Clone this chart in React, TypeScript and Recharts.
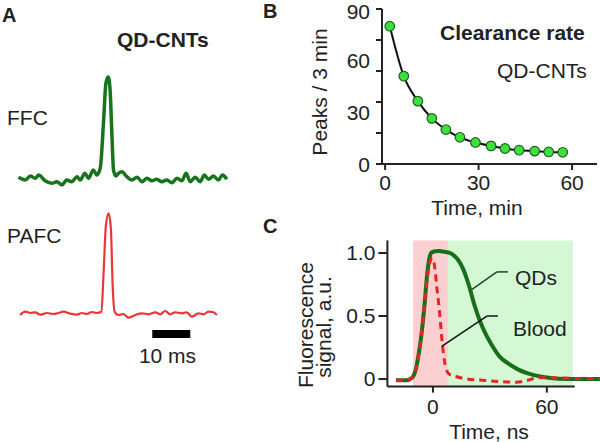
import { LineChart, Line, XAxis, YAxis, ReferenceLine, ReferenceArea } from 'recharts';

// Panel A: single-peak traces (time in ms, signal in a.u.)
const ffcTime = [-23.6, -21.8, -20.5, -19.2, -18.3, -16.6, -14.8, -13.5, -12.2, -10.9, -9.6, -8.2, -7.4, -6.1, -5.2, -3.9, -3.0, -2.1, -1.2, -0.6, 0, 0.5, 1.0, 1.4, 2.0, 2.7, 3.6, 4.9, 6.2, 7.6, 8.9, 10.2, 11.5, 12.8, 14.1, 15.4, 16.8, 18.1, 19.4, 20.5, 21.6, 22.9, 24.2, 25.3, 26.4, 27.7, 29.0, 30.1, 31.2];
const ffcSignal = [2.7, 0, 4, 1.7, 5, -0.7, -3.3, -1.7, -5, 0, -1.7, 3.3, 0, 6.7, 1.7, 10, 5, 11.7, 60, 97, 103, 90, 43, 10, 4, 6.7, 8.3, 3.3, 0, 2.7, -1.7, 1.7, -0.7, 0.7, -1.7, 0, -2.7, 1.7, -0.7, 6.7, -1.7, 2.7, -1.7, 5, 0.7, 4, 0, 5, 0.7];

const pafcTime = [-23.2, -21.8, -20.5, -19.2, -17.9, -16.1, -14.4, -13.1, -11.8, -10, -8.2, -6.9, -5.6, -4.3, -3.0, -1.8, -1.2, -0.6, 0.1, 0.7, 1.2, 1.7, 2.7, 4.0, 5.3, 7.1, 8.9, 10.6, 12.4, 13.7, 15, 16.3, 17.6, 19.4, 20.7, 22, 23.8, 25.1, 26.4, 27.7, 28.6];
const pafcSignal = [-1, 2.3, 1, 1.7, -0.7, 1, 0, 1, 2.3, 0.3, -0.7, 1, 0, 2, 1, 2.3, 42, 89, 100.7, 86, 26, 2.3, -1, 0, -3.7, -1, 0.7, -0.3, 1.7, -0.3, 3, -0.3, 1.7, 0.7, 1.7, -2.7, 0.7, -0.3, 2.3, 1.7, -1];

const scaleBarStart = 11.6; // ms
const scaleBarLength = 10; // ms

// Panel B: clearance rate
const clearTime = [1.5, 6, 10.5, 15, 19.5, 24, 29, 34, 38.5, 43, 48, 52.5, 57];
const clearPeaks = [80, 51, 36.5, 26.5, 20, 15.5, 12.5, 10.5, 9, 8, 7.5, 7, 6.8];

// Panel C: fluorescence decay (ns)
const qdTime = [-19.5, -14, -11, -9, -7.5, -6, -4.5, -3, -2, -1, 0, 3, 6, 9, 11, 13, 16, 19, 22, 25, 28, 31, 35, 40, 45, 50, 55, 60, 66, 75, 88];
const qdSignal = [-0.01, -0.01, 0.01, 0.08, 0.2, 0.36, 0.58, 0.84, 0.95, 1.0, 1.01, 1.015, 1.01, 1.0, 0.98, 0.95, 0.87, 0.74, 0.58, 0.45, 0.35, 0.27, 0.18, 0.12, 0.075, 0.045, 0.025, 0.012, 0.003, 0, 0];

const bloodTime = [-19.5, -14, -11, -9, -7.5, -6, -4.5, -3, -2, -1, -0.3, 1, 2, 3, 3.7, 5, 6, 7, 8.5, 12, 18, 26, 35, 44, 50, 55, 62, 75, 88];
const bloodSignal = [-0.01, -0.01, 0.01, 0.08, 0.2, 0.36, 0.58, 0.8, 0.9, 0.95, 0.96, 0.88, 0.73, 0.6, 0.49, 0.27, 0.15, 0.08, 0.04, 0.02, 0, -0.01, -0.02, -0.025, -0.01, 0.01, 0.01, 0.005, 0.005];

const laserWindow = [-10.5, 7.9];
const qdWindow = [7.9, 73.7];

const ffcData = ffcTime.map((t, i) => ({ t, v: ffcSignal[i] }));
const pafcData = pafcTime.map((t, i) => ({ t, v: pafcSignal[i] }));
const clearData = clearTime.map((t, i) => ({ t, v: clearPeaks[i] }));
const qdData = qdTime.map((t, i) => ({ t, v: qdSignal[i] }));
const bloodData = bloodTime.map((t, i) => ({ t, v: bloodSignal[i] }));

const FONT = '"Liberation Sans", Arial, sans-serif';
const INK = '#222';

function PeakTick({ x, y, payload }: any) {
  const v = payload.value;
  return (
    <g>
      {v % 18 === 0 && <line x1={x + 6} x2={x + 12} y1={y} y2={y} stroke={INK} strokeWidth={2} />}
      {v % 30 === 0 && (
        <text x={x} y={v === 90 ? y + 2 : y} dy={7.5} textAnchor="end" fontSize={21} fill={INK}>
          {v}
        </text>
      )}
    </g>
  );
}

function TraceA({ data, color, width, top, height, yMin }: any) {
  return (
    <div style={{ position: 'absolute', left: 16.8, top, width: 212.8, height }}>
      <LineChart width={212.8} height={height} data={data} margin={{ top: 0, right: 0, bottom: 0, left: 0 }}>
        <XAxis type="number" dataKey="t" domain={[-24, 32]} hide />
        <YAxis type="number" domain={[yMin, 110]} hide />
        <Line dataKey="v" type="monotone" stroke={color} strokeWidth={width} dot={false} isAnimationActive={false} />
        {yMin < -20 && (
          <ReferenceLine
            segment={[
              { x: scaleBarStart, y: -20 },
              { x: scaleBarStart + scaleBarLength, y: -20 },
            ]}
            stroke="#000"
            strokeWidth={8}
            ifOverflow="visible"
          />
        )}
      </LineChart>
    </div>
  );
}

export default function App() {
  return (
    <div style={{ position: 'absolute', left: 0, top: 0, width: 600, height: 442, background: '#fff', fontFamily: FONT, overflow: 'hidden' }}>
      <TraceA data={ffcData} color="#18741c" width={3.5} top={70} height={120} yMin={-10} />
      <TraceA data={pafcData} color="#e8363a" width={2.2} top={204} height={140} yMin={-30} />

      <div style={{ position: 'absolute', left: 300, top: 0, width: 300, height: 230 }}>
        <LineChart width={300} height={230} data={clearData} margin={{ top: 9, right: 3, bottom: 0, left: 0 }}>
          <XAxis
            type="number"
            dataKey="t"
            domain={[-1, 68]}
            ticks={[0, 30, 60]}
            height={66}
            tickSize={6}
            tickMargin={5}
            tick={{ fontSize: 21, fill: INK }}
            axisLine={{ stroke: INK, strokeWidth: 2 }}
            tickLine={{ stroke: INK, strokeWidth: 2 }}
          />
          <YAxis
            type="number"
            domain={[0, 90]}
            ticks={[0, 18, 30, 36, 54, 60, 72, 90]}
            interval={0}
            width={82}
            tickSize={6}
            tickMargin={6}
            tickLine={false}
            tick={<PeakTick />}
            axisLine={{ stroke: INK, strokeWidth: 2 }}
          />
          <Line
            dataKey="v"
            type="monotone"
            stroke="#111"
            strokeWidth={2}
            dot={{ r: 4.8, fill: '#3ee03e', stroke: '#1f5f1f', strokeWidth: 1.2 }}
            isAnimationActive={false}
          />
        </LineChart>
      </div>

      <div style={{ position: 'absolute', left: 300, top: 230, width: 300, height: 212 }}>
        <LineChart width={300} height={212} margin={{ top: 10.4, right: 0, bottom: 0, left: 0 }}>
          <ReferenceArea x1={laserWindow[0]} x2={laserWindow[1]} y1={-0.06} y2={1.1} fill="#fcd0d0" fillOpacity={1} stroke="none" ifOverflow="visible" />
          <ReferenceArea x1={qdWindow[0]} x2={qdWindow[1]} y1={-0.06} y2={1.1} fill="#d3f8d3" fillOpacity={1} stroke="none" ifOverflow="visible" />
          <XAxis
            type="number"
            dataKey="t"
            domain={[-24, 88]}
            ticks={[0, 60]}
            height={55.4}
            tickSize={6}
            tickMargin={6}
            tick={{ fontSize: 21, fill: INK }}
            axisLine={false}
            tickLine={{ stroke: INK, strokeWidth: 2 }}
          />
          <YAxis
            type="number"
            domain={[-0.06, 1.1]}
            ticks={[0, 0.5, 1]}
            width={87.4}
            tickSize={9}
            tickMargin={3}
            tickFormatter={(v: number) => (v === 0 ? '0' : v.toFixed(1))}
            tick={{ fontSize: 21, fill: INK }}
            axisLine={{ stroke: INK, strokeWidth: 2 }}
            tickLine={{ stroke: INK, strokeWidth: 2 }}
          />
          <ReferenceLine segment={[{ x: -24, y: -0.06 }, { x: 74.7, y: -0.06 }]} stroke={INK} strokeWidth={2} ifOverflow="visible" />
          <Line data={qdData} dataKey="v" type="monotone" stroke="#1a6e1a" strokeWidth={4} dot={false} isAnimationActive={false} />
          <Line data={bloodData} dataKey="v" type="monotone" stroke="#e52424" strokeWidth={3} strokeDasharray="7 5" dot={false} isAnimationActive={false} />
          <ReferenceLine segment={[{ x: 39.5, y: 0.85 }, { x: 33.7, y: 0.85 }]} stroke="#1d4a1d" strokeWidth={1.5} ifOverflow="visible" />
          <ReferenceLine segment={[{ x: 33.7, y: 0.85 }, { x: 20.4, y: 0.71 }]} stroke="#1d4a1d" strokeWidth={1.5} ifOverflow="visible" />
          <ReferenceLine segment={[{ x: 34.2, y: 0.5 }, { x: 28.4, y: 0.5 }]} stroke="#111" strokeWidth={1.5} ifOverflow="visible" />
          <ReferenceLine segment={[{ x: 28.4, y: 0.5 }, { x: 4.6, y: 0.26 }]} stroke="#111" strokeWidth={1.5} ifOverflow="visible" />
        </LineChart>
      </div>

      <svg width={600} height={442} style={{ position: 'absolute', left: 0, top: 0, pointerEvents: 'none' }} fontFamily={FONT} fill={INK}>
        <text x={2} y={22} fontSize={20} fontWeight="bold">A</text>
        <text x={117} y={47} fontSize={21} fontWeight="bold">QD-CNTs</text>
        <text x={7} y={125} fontSize={21}>FFC</text>
        <text x={7} y={243} fontSize={21}>PAFC</text>
        <text x={167.5} y={363} fontSize={21} textAnchor="middle">10 ms</text>

        <text x={263} y={18} fontSize={20} fontWeight="bold">B</text>
        <text x={440} y={40} fontSize={21} fontWeight="bold">Clearance rate</text>
        <text x={497} y={78} fontSize={21}>QD-CNTs</text>
        <text x={327} y={92} fontSize={21} textAnchor="middle" transform="rotate(-90 327 92)">Peaks / 3 min</text>
        <text x={477} y={215} fontSize={21} textAnchor="middle">Time, min</text>

        <text x={263} y={233} fontSize={20} fontWeight="bold">C</text>
        <text x={313} y={325} fontSize={21} textAnchor="middle" transform="rotate(-90 313 325)">Fluorescence</text>
        <text x={331} y={327} fontSize={21} textAnchor="middle" transform="rotate(-90 331 327)">signal, a.u.</text>
        <text x={489} y={439} fontSize={21} textAnchor="middle">Time, ns</text>
        <text x={515} y={285} fontSize={21}>QDs</text>
        <text x={513} y={336} fontSize={21}>Blood</text>
      </svg>
    </div>
  );
}
